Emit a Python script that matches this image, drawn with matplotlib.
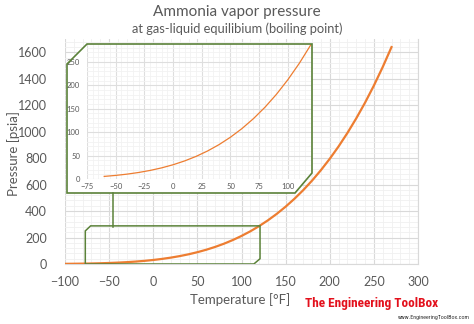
import matplotlib
matplotlib.use("Agg")
import matplotlib.pyplot as plt
from matplotlib.patches import Polygon
from matplotlib.ticker import MultipleLocator
from matplotlib.lines import Line2D

# saturation temperature [°F] and vapor pressure [psia] of ammonia
temperatur_F = [-100, -90, -80, -70, -60, -50, -40, -30, -20, -10, 0, 10, 20, 30, 40,
                50, 60, 70, 80, 90, 100, 110, 120, 130, 140, 150, 160, 170, 180, 190,
                200, 210, 220, 230, 240, 250, 260, 270]
druck_psia = [1.24, 1.86, 2.74, 3.94, 5.55, 7.67, 10.41, 13.90, 18.30, 23.74, 30.42,
              38.51, 48.21, 59.74, 73.32, 89.19, 107.6, 128.8, 153.0, 180.6, 211.9,
              247.0, 286.4, 330.3, 379.1, 433.2, 492.8, 558.4, 630.4, 709.1, 794.9,
              888.3, 989.8, 1100.0, 1219.0, 1348.0, 1488.0, 1639.0]

# zoomed range shown in the small chart
zoom_T_min, zoom_T_max = -60, 120

plt.rcParams['font.family'] = ['Lato', 'DejaVu Sans']
GRAU = '#595959'
ORANGE = '#ED7D31'
GRUEN = '#5b8239'

W, H = 474, 324
fig = plt.figure(figsize=(W / 100, H / 100), dpi=100)


def rect(l, t, r, b):
    # pixel box -> figure fraction [left, bottom, width, height]
    return [l / W, 1 - b / H, (r - l) / W, (b - t) / H]


def px(x, y):
    return (x / W, 1 - y / H)


def gitter(ax, major_col='#d9d9d9', minor_col='#f0f0f0'):
    ax.grid(which='major', color=major_col, linewidth=0.8)
    ax.grid(which='minor', color=minor_col, linewidth=0.6)
    ax.set_axisbelow(True)
    for s in ax.spines.values():
        s.set_visible(False)
    ax.tick_params(which='both', length=0, colors=GRAU)


# Hauptdiagramm
ax = fig.add_axes(rect(65, 39, 418, 264))
ax.plot(temperatur_F, druck_psia, color=ORANGE, linewidth=1.6, zorder=3)
ax.set_xlim(-100, 300)
ax.set_ylim(0, 1700)
ax.xaxis.set_major_locator(MultipleLocator(50))
ax.xaxis.set_minor_locator(MultipleLocator(10))
ax.set_yticks(range(0, 1601, 200))
ax.yaxis.set_minor_locator(MultipleLocator(40))
gitter(ax)
ax.spines['right'].set_visible(True)
ax.spines['right'].set_color('#d9d9d9')
ax.spines['bottom'].set_visible(True)
ax.spines['bottom'].set_color('#d9d9d9')
ax.tick_params(axis='both', labelsize=9)
ax.tick_params(axis='x', pad=9)
ax.tick_params(axis='y', pad=13)
ax.set_xlabel('Temperature [°F]', fontsize=9.5, color=GRAU, va='center')
ax.set_ylabel('Pressure [psia]', fontsize=9.5, color=GRAU, va='center')
ax.xaxis.set_label_coords(0.495, -0.156)
ax.yaxis.set_label_coords(-0.147, 0.49)

fig.text(0.5, 1 - 12 / H, 'Ammonia vapor pressure', ha='center', va='center',
         fontsize=11, color=GRAU)
fig.text(0.5, 1 - 29 / H, 'at gas-liquid equilibium (boiling point)', ha='center',
         va='center', fontsize=9.3, color=GRAU)

# Ausschnitt im Hauptdiagramm markieren
zx0, zx1 = -77, 121
zy0, zy1 = 0, 288
box = Polygon([(zx0, zy1 - 38), (zx0 + 6, zy1), (zx1, zy1), (zx1, zy0 + 40),
               (zx1 - 7, zy0), (zx0, zy0)], closed=True, fill=False,
              edgecolor=GRUEN, linewidth=1.1, zorder=4)
ax.add_patch(box)

# Rahmen fuer das kleine Diagramm
rahmen = [px(67, 64), px(87, 44), px(312, 44), px(312, 173), px(295, 193), px(67, 193)]
fig.add_artist(Polygon(rahmen, closed=True, facecolor='white', edgecolor='none',
                       transform=fig.transFigure, zorder=1))
fig.add_artist(Polygon(rahmen, closed=True, fill=False, edgecolor=GRUEN, linewidth=1.2,
                       transform=fig.transFigure, zorder=3))
fig.add_artist(Line2D([113 / W, 113 / W], [1 - 193 / H, 1 - 227 / H], color=GRUEN,
                      linewidth=1.1, transform=fig.transFigure, zorder=3))

# kleines Diagramm
zoom_T = [t for t in temperatur_F if zoom_T_min <= t <= zoom_T_max]
zoom_p = [p for t, p in zip(temperatur_F, druck_psia) if zoom_T_min <= t <= zoom_T_max]
axi = fig.add_axes(rect(87, 44, 312, 179))
axi.set_zorder(2)
axi.plot(zoom_T, zoom_p, color=ORANGE, linewidth=0.9, zorder=3)
axi.set_xlim(-75, 121)
axi.set_ylim(0, 288)
axi.set_xticks(range(-75, 101, 25))
axi.xaxis.set_minor_locator(MultipleLocator(5))
axi.set_yticks(range(0, 251, 50))
axi.yaxis.set_minor_locator(MultipleLocator(10))
gitter(axi, '#dedede', '#f2f2f2')
axi.tick_params(axis='both', labelsize=5.5)
axi.tick_params(axis='y', pad=5)
axi.tick_params(axis='x', pad=3)

# Logo
fig.text(438 / W, 1 - 303 / H, 'The Engineering ToolBox', ha='right', va='center',
         fontsize=9.5, fontweight='bold', fontstretch='condensed', color='#e3101c',
         family=['Roboto Condensed', 'DejaVu Sans'])
fig.text(470 / W, 1 - 317 / H, 'www.EngineeringToolBox.com', ha='right', va='center',
         fontsize=4.3, color='#333333', fontstretch='condensed',
         family=['Roboto Condensed', 'DejaVu Sans'])

fig.savefig('out.png', dpi=100)
